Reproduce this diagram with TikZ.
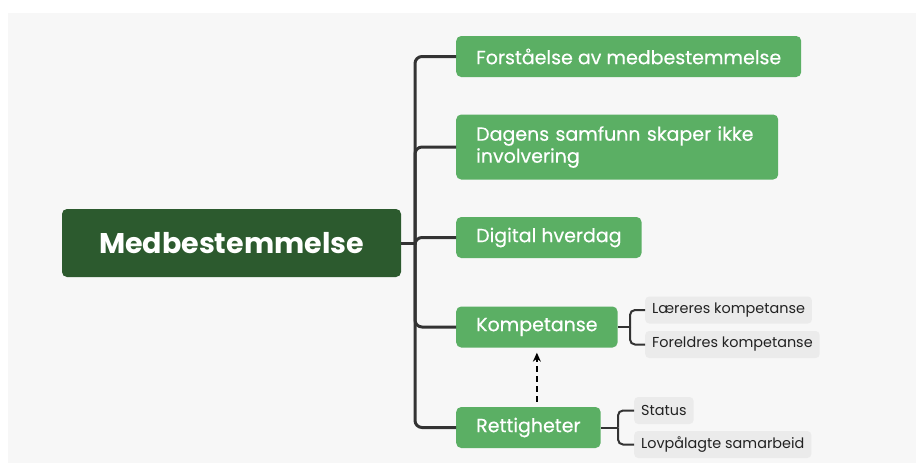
\documentclass[tikz,border=0pt]{standalone}
\usepackage{fontspec}
\setmainfont{Poppins}
\newfontfamily\medfont{Poppins}[FakeBold=0.4]
\usetikzlibrary{arrows.meta}
\definecolor{bgcol}{HTML}{F7F7F7}
\definecolor{rootcol}{HTML}{2C5A2E}
\definecolor{leafcol}{HTML}{5BAF64}
\definecolor{subcol}{HTML}{EBEBEB}
\definecolor{linecol}{HTML}{333333}
\definecolor{subtext}{HTML}{222222}
\tikzset{
  rootbox/.style={fill=rootcol, text=white, rounded corners=5pt, minimum width=339pt,
    minimum height=68pt, font=\fontsize{28.5}{32}\selectfont\bfseries},
  leafbox/.style={fill=leafcol, text=white, rounded corners=5pt, anchor=west,
    inner xsep=20pt, minimum height=41pt, font=\fontsize{19}{22}\medfont},
  subbox/.style={fill=subcol, text=subtext, rounded corners=4pt, anchor=west,
    inner xsep=7pt, minimum height=27pt, font=\fontsize{14.4}{17}\selectfont},
  link/.style={draw=linecol, line width=3pt, rounded corners=7pt},
  sublink/.style={draw=linecol, line width=2pt, rounded corners=5pt}
}
\begin{document}
\begin{tikzpicture}[x=1pt,y=-1pt]
  \useasboundingbox (0,0) rectangle (916,463);
  \fill[bgcol] (8,13) rectangle (916,463);
  % main topic and branches
  \node[rootbox] (root) at (231.5,243) {Medbestemmelse};
  \node[leafbox] (forst) at (456,56.5) {Forståelse av medbestemmelse};
  \node[leafbox, text width=282pt, align=left, minimum height=65pt] (dagens) at (456,147)
    {Dagens samfunn skaper ikke\\involvering};
  \node[leafbox] (digital) at (456,237.5) {Digital hverdag};
  \node[leafbox] (komp) at (456,327) {Kompetanse};
  \node[leafbox] (rett) at (456,427.5) {Rettigheter};
  % sub topics
  \node[subbox] (laerer) at (645,310) {Læreres kompetanse};
  \node[subbox] (foreldre) at (645,344.5) {Foreldres kompetanse};
  \node[subbox] (status) at (634,410.5) {Status};
  \node[subbox] (lov) at (634,444.5) {Lovpålagte samarbeid};
  \coordinate (trunk) at (415,243);
  \coordinate (kb) at (630,327);
  \coordinate (rb) at (618,427.5);
  \begin{scope}[link]
    \draw (root.east) -- (trunk);
    \draw (trunk) |- (forst.west);
    \draw (trunk) |- (dagens.west);
    \draw (trunk) |- (digital.west);
    \draw (trunk) |- (komp.west);
    \draw (trunk) |- (rett.west);
  \end{scope}
  \begin{scope}[sublink]
    \draw (komp.east) -- (kb);
    \draw (kb) |- (laerer.west);
    \draw (kb) |- (foreldre.west);
    \draw (rett.east) -- (rb);
    \draw (rb) |- (status.west);
    \draw (rb) |- (lov.west);
  \end{scope}
  \draw[line width=2pt, dash pattern=on 6pt off 4pt, -{Stealth[length=9pt,width=8pt]},
    shorten <=5pt, shorten >=5pt]
    (rett.north -| komp.south) -- (komp.south);
\end{tikzpicture}
\end{document}
